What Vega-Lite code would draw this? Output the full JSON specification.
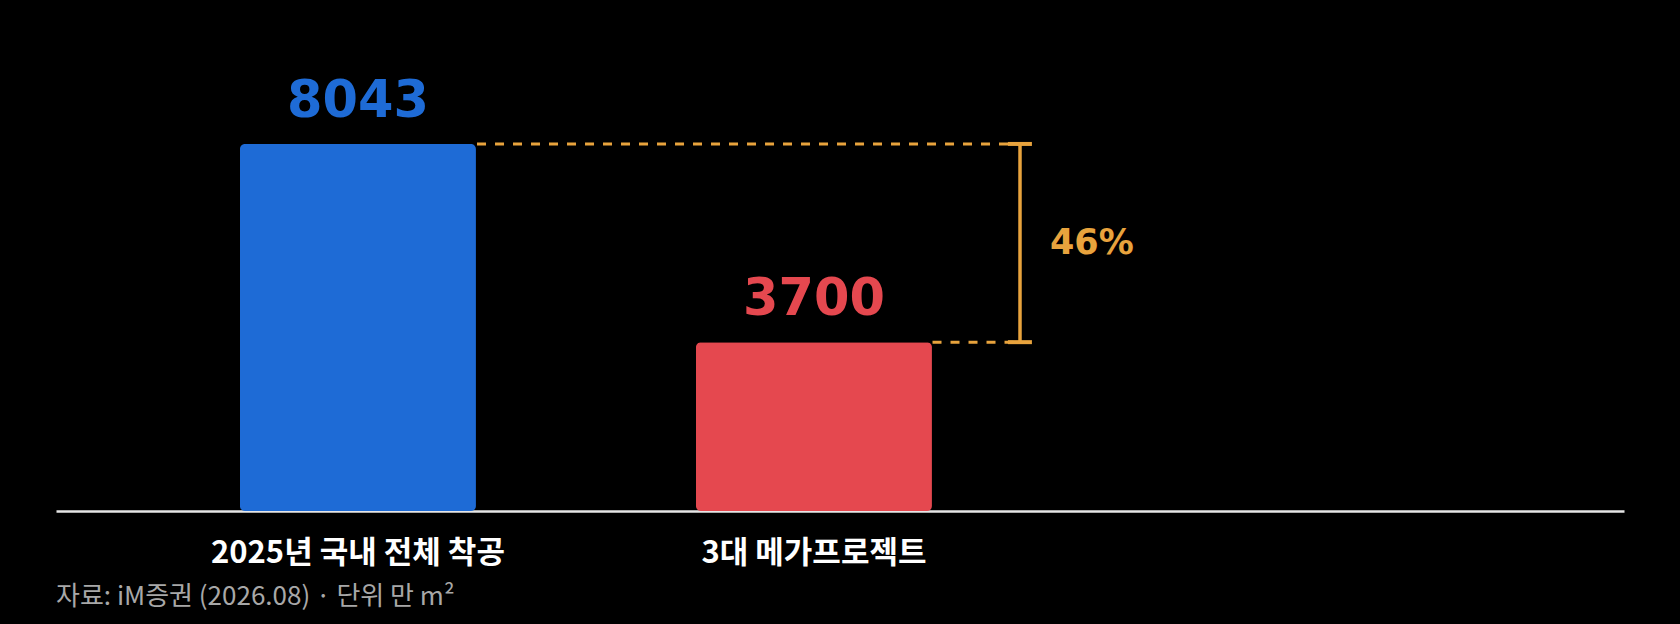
{
  "$schema": "https://vega.github.io/schema/vega-lite/v6.json",
  "width": 1568,
  "height": 502,
  "autosize": "none",
  "padding": {"left": 56, "top": 9, "right": 56, "bottom": 113},
  "background": "#000000",
  "config": {"view": {"stroke": null}},
  "title": {
    "text": "자료: iM증권 (2026.08) · 단위 만 m²",
    "orient": "bottom",
    "anchor": "start",
    "offset": 16,
    "font": "Noto Sans CJK KR",
    "fontSize": 26,
    "fontWeight": "normal",
    "color": "#a8a8a8"
  },
  "datasets": {
    "bars": [
      {"label": "2025년 국내 전체 착공", "value": 8043},
      {"label": "3대 메가프로젝트", "value": 3700}
    ],
    "dashes": [
      {"x": 26.85, "x2": 61.48, "y": 8043},
      {"x": 55.9, "x2": 61.48, "y": 3700}
    ],
    "caps": [
      {"x": 60.71, "x2": 62.24, "y": 8043},
      {"x": 60.71, "x2": 62.24, "y": 3700}
    ],
    "bracket": [
      {"x": 61.48, "y": 3700, "y2": 8043}
    ],
    "note": [
      {"x": 63.39, "y": 5871.5, "text": "46%"}
    ]
  },
  "layer": [
    {
      "data": {"name": "bars"},
      "encoding": {
        "x": {
          "field": "label",
          "type": "nominal",
          "sort": null,
          "scale": {"paddingInner": 0.4825, "paddingOuter": 0.9605, "align": 0.21},
          "axis": {
            "title": null,
            "labelAngle": 0,
            "labelLimit": 0,
            "ticks": false,
            "grid": false,
            "domainColor": "#e6e6e6",
            "domainWidth": 2.5,
            "labelPadding": 27,
            "labelFont": "Noto Sans CJK KR",
            "labelFontSize": 31,
            "labelFontWeight": "bold",
            "labelColor": "#ffffff"
          }
        },
        "y": {
          "field": "value",
          "type": "quantitative",
          "scale": {"domain": [0, 11000]},
          "axis": null
        },
        "color": {
          "field": "label",
          "type": "nominal",
          "sort": null,
          "scale": {"range": ["#1e6bd6", "#e5484f"]},
          "legend": null
        }
      },
      "layer": [
        {"mark": {"type": "bar", "cornerRadius": 5}},
        {
          "mark": {
            "type": "text",
            "dy": -27,
            "baseline": "alphabetic",
            "font": "DejaVu Sans",
            "fontSize": 51,
            "fontWeight": "bold"
          },
          "encoding": {"text": {"field": "value", "type": "quantitative", "format": "d"}}
        }
      ]
    },
    {
      "layer": [
        {
          "data": {"name": "dashes"},
          "mark": {"type": "rule", "color": "#e8a33d", "strokeWidth": 3, "strokeDash": [9, 9]},
          "encoding": {
            "x": {"field": "x", "type": "quantitative", "scale": {"domain": [0, 100]}, "axis": null},
            "x2": {"field": "x2"},
            "y": {"field": "y", "type": "quantitative", "scale": {"domain": [0, 11000]}, "axis": null}
          }
        },
        {
          "data": {"name": "caps"},
          "mark": {"type": "rule", "color": "#e8a33d", "strokeWidth": 4},
          "encoding": {
            "x": {"field": "x", "type": "quantitative", "scale": {"domain": [0, 100]}, "axis": null},
            "x2": {"field": "x2"},
            "y": {"field": "y", "type": "quantitative", "scale": {"domain": [0, 11000]}, "axis": null}
          }
        },
        {
          "data": {"name": "bracket"},
          "mark": {"type": "rule", "color": "#e8a33d", "strokeWidth": 3.5},
          "encoding": {
            "x": {"field": "x", "type": "quantitative", "scale": {"domain": [0, 100]}, "axis": null},
            "y": {"field": "y", "type": "quantitative", "scale": {"domain": [0, 11000]}, "axis": null},
            "y2": {"field": "y2"}
          }
        },
        {
          "data": {"name": "note"},
          "mark": {
            "type": "text",
            "align": "left",
            "baseline": "middle",
            "color": "#e8a33d",
            "font": "DejaVu Sans",
            "fontSize": 35,
            "fontWeight": "bold"
          },
          "encoding": {
            "x": {"field": "x", "type": "quantitative", "scale": {"domain": [0, 100]}, "axis": null},
            "y": {"field": "y", "type": "quantitative", "scale": {"domain": [0, 11000]}, "axis": null},
            "text": {"field": "text"}
          }
        }
      ]
    }
  ],
  "resolve": {"scale": {"x": "independent"}}
}
